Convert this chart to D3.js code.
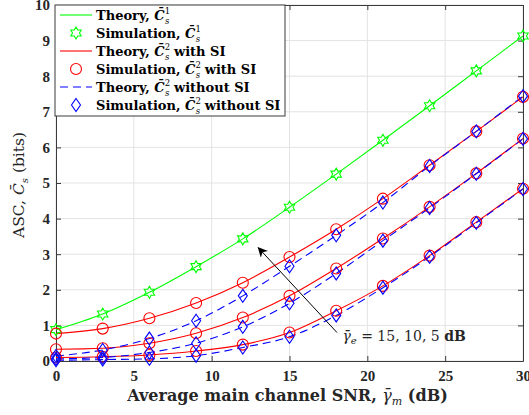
<!DOCTYPE html>
<html>
<head>
<meta charset="utf-8">
<script src="https://cdn.jsdelivr.net/npm/d3@7"></script>
<style>
  body { margin: 0; background: #fff; }
  svg { display: block; }
  text { font-family: "Liberation Serif", "Times New Roman", serif; }
  .cm { font-family: "DejaVu Serif", serif; }
</style>
</head>
<body>
<div id="chart"></div>
<script>
// average main channel SNR (dB)
const snr = [0, 3, 6, 9, 12, 15, 18, 21, 24, 27, 30];

// C1 (theory and simulation)
const c1 = [0.88, 1.32, 1.93, 2.65, 3.43, 4.32, 5.25, 6.2, 7.17, 8.15, 9.13];

// C2 with SI, gamma_e = 5, 10, 15 dB
const withSI5 = [0.77, 0.91, 1.2, 1.63, 2.2, 2.92, 3.7, 4.56, 5.5, 6.45, 7.42];
const withSI10 = [0.33, 0.36, 0.5, 0.78, 1.22, 1.83, 2.6, 3.44, 4.33, 5.27, 6.25];
const withSI15 = [0.1, 0.12, 0.17, 0.28, 0.46, 0.8, 1.41, 2.11, 2.96, 3.9, 4.84];

// C2 without SI
const noSI5 = [0.14, 0.31, 0.63, 1.13, 1.83, 2.66, 3.53, 4.45, 5.48, 6.45, 7.44];
const noSI10 = [0.06, 0.1, 0.24, 0.5, 0.96, 1.62, 2.46, 3.38, 4.3, 5.26, 6.24];
const noSI15 = [0.02, 0.04, 0.06, 0.15, 0.38, 0.68, 1.28, 2.06, 2.93, 3.88, 4.83];

const xTicks = [0, 5, 10, 15, 20, 25, 30];
const yTicks = [0, 1, 2, 3, 4, 5, 6, 7, 8, 9, 10];

const W = 529, H = 415;
const margin = {top: 5, right: 6, bottom: 54, left: 56};
const width = W - margin.left - margin.right;
const height = H - margin.top - margin.bottom;

const svg = d3.select("#chart").append("svg")
    .attr("width", W)
    .attr("height", H);

const g = svg.append("g")
    .attr("transform", `translate(${margin.left},${margin.top})`);

const x = d3.scaleLinear().domain([0, 30]).range([0, width]);
const y = d3.scaleLinear().domain([0, 10]).range([height, 0]);

// grid
g.append("g").selectAll("line").data(xTicks).join("line")
    .attr("x1", d => x(d)).attr("x2", d => x(d))
    .attr("y1", 0).attr("y2", height)
    .attr("stroke", "#e3e3e3");
g.append("g").selectAll("line").data(yTicks).join("line")
    .attr("x1", 0).attr("x2", width)
    .attr("y1", d => y(d)).attr("y2", d => y(d))
    .attr("stroke", "#e3e3e3");

// axes (box with inward ticks)
const axisColor = "#3a3a3a";
function styleAxis(sel) {
    sel.select(".domain").attr("stroke", axisColor);
    sel.selectAll(".tick line").attr("stroke", axisColor);
    sel.selectAll(".tick text")
        .attr("fill", "#262626")
        .attr("font-size", 15)
        .attr("font-weight", "bold");
}
g.append("g").attr("transform", `translate(0,${height})`)
    .call(d3.axisBottom(x).tickValues(xTicks).tickSizeInner(-5).tickSizeOuter(0).tickPadding(9))
    .call(styleAxis);
g.append("g")
    .call(d3.axisLeft(y).tickValues(yTicks).tickSizeInner(-5).tickSizeOuter(0).tickPadding(6))
    .call(styleAxis);
g.append("g")
    .call(d3.axisTop(x).tickValues(xTicks).tickSizeInner(-5).tickSizeOuter(0).tickFormat(""))
    .call(styleAxis);
g.append("g").attr("transform", `translate(${width},0)`)
    .call(d3.axisRight(y).tickValues(yTicks).tickSizeInner(-5).tickSizeOuter(0).tickFormat(""))
    .call(styleAxis);

// markers
function hexagram(r) {
    // outline of six-pointed star
    const pts = [];
    for (let i = 0; i < 12; i++) {
        const a = i * Math.PI / 6;
        const rr = i % 2 === 0 ? r : r / Math.sqrt(3);
        pts.push([rr * Math.sin(a), -rr * Math.cos(a)]);
    }
    return "M" + pts.map(p => p.join(",")).join("L") + "Z";
}
function diamond(w, h) {
    return `M0,${-h}L${w},0L0,${h}L${-w},0Z`;
}

const line = d3.line()
    .x((d, i) => x(snr[i]))
    .y(d => y(d))
    .curve(d3.curveMonotoneX);

const series = [
    {data: c1, color: "#00ff00", dash: null, marker: "hex"},
    {data: withSI5, color: "#ff0000", dash: null, marker: "circle"},
    {data: withSI10, color: "#ff0000", dash: null, marker: "circle"},
    {data: withSI15, color: "#ff0000", dash: null, marker: "circle"},
    {data: noSI5, color: "#0000ff", dash: "8,5", marker: "diamond"},
    {data: noSI10, color: "#0000ff", dash: "8,5", marker: "diamond"},
    {data: noSI15, color: "#0000ff", dash: "8,5", marker: "diamond"}
];

function drawMarker(sel, type, color) {
    if (type === "circle") {
        sel.append("circle").attr("r", 5.5)
            .attr("fill", "none").attr("stroke", color).attr("stroke-width", 1.1);
    } else if (type === "diamond") {
        sel.append("path").attr("d", diamond(4.5, 6.5))
            .attr("fill", "none").attr("stroke", color).attr("stroke-width", 1.1);
    } else {
        sel.append("path").attr("d", hexagram(6))
            .attr("fill", "none").attr("stroke", color).attr("stroke-width", 1.1);
    }
}

const plot = g.append("g");
series.forEach(s => {
    plot.append("path").datum(s.data)
        .attr("d", line)
        .attr("fill", "none")
        .attr("stroke", s.color)
        .attr("stroke-width", 1.1)
        .attr("stroke-dasharray", s.dash);
});
series.forEach(s => {
    s.data.forEach((v, i) => {
        const m = plot.append("g").attr("transform", `translate(${x(snr[i])},${y(v)})`);
        drawMarker(m, s.marker, s.color);
    });
});

// annotation arrow
const ann = svg.append("g");
ann.append("defs").append("marker")
    .attr("id", "arrow").attr("viewBox", "0 0 10 10")
    .attr("refX", 9).attr("refY", 5)
    .attr("markerWidth", 10).attr("markerHeight", 10)
    .attr("orient", "auto-start-reverse")
    .append("path").attr("d", "M0,0L10,5L0,10L3,5Z").attr("fill", "#000");
ann.append("line")
    .attr("x1", margin.left + x(18.05)).attr("y1", margin.top + y(0.8))
    .attr("x2", margin.left + x(13.0)).attr("y2", margin.top + y(3.18))
    .attr("stroke", "#000").attr("stroke-width", 1)
    .attr("marker-end", "url(#arrow)");
const annText = ann.append("text").attr("class", "cm")
    .attr("x", margin.left + x(18.4)).attr("y", margin.top + y(0.57))
    .attr("font-size", 14).attr("fill", "#262626");
annText.append("tspan").attr("font-style", "italic").text("\u03B3\u0304");
annText.append("tspan").attr("font-style", "italic").attr("font-size", 10).attr("dy", 3).text("e");
annText.append("tspan").attr("dy", -3).text(" = 15, 10, 5 ");
annText.append("tspan").attr("font-weight", "bold").text("dB");

// legend
const legendLabels = [
    ["Theory, ", "1", ""],
    ["Simulation, ", "1", ""],
    ["Theory, ", "2", " with SI"],
    ["Simulation, ", "2", " with SI"],
    ["Theory, ", "2", " without SI"],
    ["Simulation, ", "2", " without SI"]
];
const legendStyle = [
    {color: "#00ff00", dash: null, marker: null},
    {color: "#00ff00", dash: null, marker: "hex"},
    {color: "#ff0000", dash: null, marker: null},
    {color: "#ff0000", dash: null, marker: "circle"},
    {color: "#0000ff", dash: "8,5", marker: null},
    {color: "#0000ff", dash: null, marker: "diamond"}
];
const lg = svg.append("g").attr("transform", `translate(${margin.left - 1},${margin.top})`);
lg.append("rect").attr("x", 0).attr("y", 0).attr("width", 230).attr("height", 111)
    .attr("fill", "#fff").attr("stroke", "#3a3a3a").attr("stroke-width", 1);
legendLabels.forEach((lab, i) => {
    const cy = 10 + i * 18;
    const st = legendStyle[i];
    if (st.marker) {
        const m = lg.append("g").attr("transform", `translate(21,${cy})`);
        drawMarker(m, st.marker, st.color);
    } else {
        lg.append("line").attr("x1", 5).attr("x2", 37).attr("y1", cy).attr("y2", cy)
            .attr("stroke", st.color).attr("stroke-width", 1.1)
            .attr("stroke-dasharray", st.dash);
    }
    const t = lg.append("text").attr("class", "cm").attr("x", 41).attr("y", cy + 4.5)
        .attr("font-size", 13).attr("font-weight", "bold").attr("fill", "#000");
    t.append("tspan").text(lab[0]);
    t.append("tspan").attr("font-style", "italic").text("C\u0304");
    t.append("tspan").attr("font-size", 8.5).attr("font-weight", "normal").attr("dy", -6).text(lab[1]);
    t.append("tspan").attr("font-size", 8.5).attr("font-weight", "normal").attr("font-style", "italic")
        .attr("dx", -5).attr("dy", 10).text("s");
    t.append("tspan").attr("dy", -4).text(lab[2]);
});

// axis labels
const xl = svg.append("text").attr("class", "cm")
    .attr("x", margin.left + width / 2 - 2).attr("y", 401)
    .attr("text-anchor", "middle").attr("font-size", 16).attr("fill", "#262626")
    .attr("font-weight", "bold");
xl.append("tspan").text("Average main channel SNR, ");
xl.append("tspan").attr("font-style", "italic").attr("font-weight", "normal").text("\u03B3\u0304");
xl.append("tspan").attr("font-style", "italic").attr("font-weight", "normal").attr("font-size", 11).attr("dy", 4).text("m");
xl.append("tspan").attr("dy", -4).text(" (dB)");

const yl = svg.append("text").attr("class", "cm")
    .attr("transform", `translate(24,${margin.top + height / 2 + 2}) rotate(-90)`)
    .attr("text-anchor", "middle").attr("font-size", 15.5).attr("fill", "#262626");
yl.append("tspan").text("ASC, ");
yl.append("tspan").attr("font-style", "italic").text("C\u0304");
yl.append("tspan").attr("font-style", "italic").attr("font-size", 10).attr("dy", 4).text("s");
yl.append("tspan").attr("dy", -4).text(" (bits)");
</script>
</body>
</html>
